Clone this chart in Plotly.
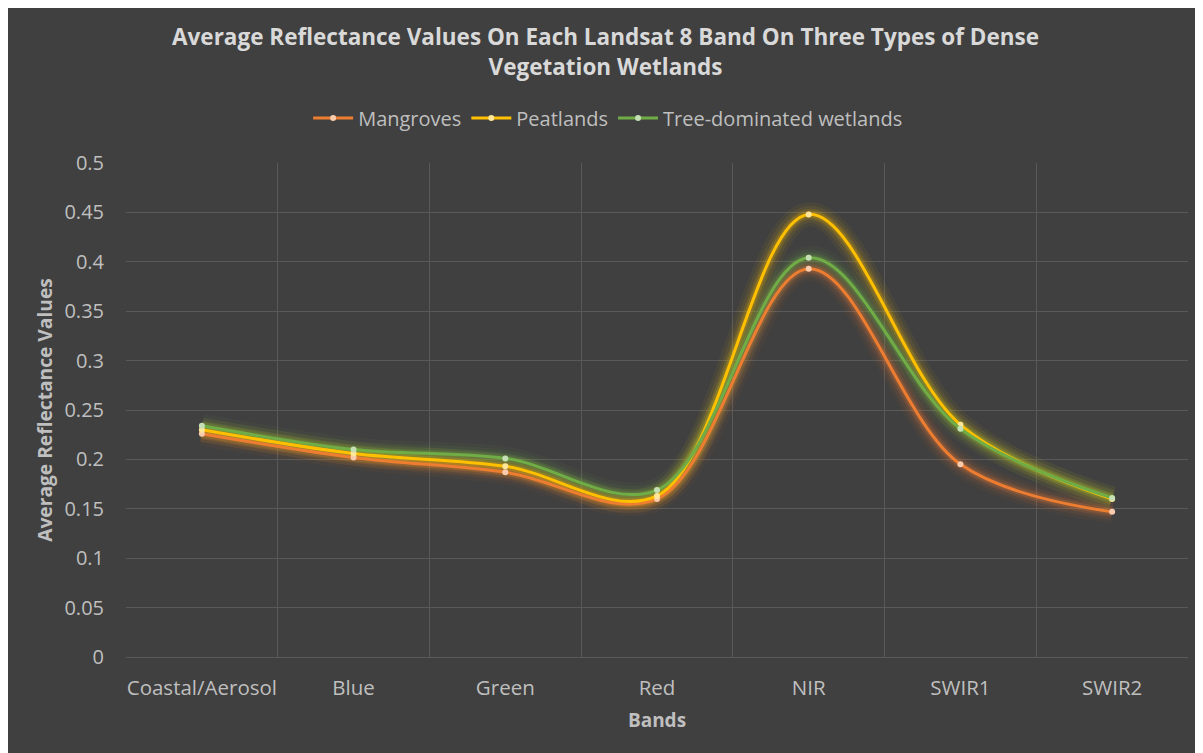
import plotly.graph_objects as go

bands = ["Coastal/Aerosol", "Blue", "Green", "Red", "NIR", "SWIR1", "SWIR2"]
mangroves = [0.226, 0.202, 0.187, 0.160, 0.393, 0.195, 0.147]
peatlands = [0.230, 0.206, 0.193, 0.163, 0.448, 0.235, 0.160]
tree_wetlands = [0.234, 0.210, 0.201, 0.169, 0.404, 0.231, 0.161]

series = [
    ("Mangroves", mangroves, "#ED7D31", "rgba(237,125,49,", "#F8CBAD"),
    ("Peatlands", peatlands, "#FFC000", "rgba(255,192,0,", "#FFE699"),
    ("Tree-dominated wetlands", tree_wetlands, "#70AD47", "rgba(112,173,71,", "#C5E0B4"),
]

fig = go.Figure()
# soft glow layers
for name, vals, col, rgba, mk in series:
    for w, a in [(24, 0.05), (17, 0.08), (11, 0.13), (7, 0.2)]:
        fig.add_trace(go.Scatter(x=bands, y=vals, mode="lines",
                                 line=dict(color=rgba + f"{a})", width=w, shape="spline", smoothing=1.0),
                                 showlegend=False, hoverinfo="skip"))
for name, vals, col, rgba, mk in series:
    fig.add_trace(go.Scatter(x=bands, y=vals, mode="lines+markers", name=name,
                             line=dict(color=col, width=3, shape="spline", smoothing=1.0),
                             marker=dict(color=mk, size=6)))

title_c = "#D9D9D9"
txt = "#BFBFBF"
grid = "#595959"
fam = "Open Sans, Lato, sans-serif"
fig.update_layout(
    width=1195, height=745,
    paper_bgcolor="#404040", plot_bgcolor="#404040",
    font=dict(family=fam, color=txt, size=19),
    margin=dict(l=118, r=15, t=155, b=96),
    title=dict(text="<b>Average Reflectance Values On Each Landsat 8 Band On Three Types of Dense<br>Vegetation Wetlands</b>",
               x=0.5, xanchor="center", xref="container", y=0.95, yanchor="top", yref="container",
               font=dict(size=22.5, color=title_c, family=fam)),
    legend=dict(orientation="h", x=0.454, xanchor="center", y=1.091, yanchor="middle",
                font=dict(size=20, color=txt), bgcolor="rgba(0,0,0,0)", itemwidth=40),
    xaxis=dict(showgrid=True, gridcolor=grid, gridwidth=1, tickson="boundaries",
               range=[-0.5, 6.5], ticks="", showline=False, zeroline=False,
               tickangle=0, automargin=False,
               ticklabelstandoff=16,
               title=dict(text="<b>Bands</b>", font=dict(size=19, color=txt), standoff=14),
               tickfont=dict(size=20.5, color=txt)),
    yaxis=dict(range=[0, 0.5], showgrid=True, gridcolor=grid, gridwidth=1,
               zeroline=True, zerolinecolor=grid, zerolinewidth=1, showline=False, ticks="",
               ticklabelstandoff=21, automargin=False,
               title=dict(text="<b>Average Reflectance Values</b>", font=dict(size=19.2, color=txt), standoff=6),
               tickfont=dict(size=20, color=txt)),
)
fig.update_yaxes(tickvals=[i * 0.05 for i in range(11)],
                 ticktext=["0", "0.05", "0.1", "0.15", "0.2", "0.25", "0.3", "0.35", "0.4", "0.45", "0.5"])

fig.write_html("out.html")
